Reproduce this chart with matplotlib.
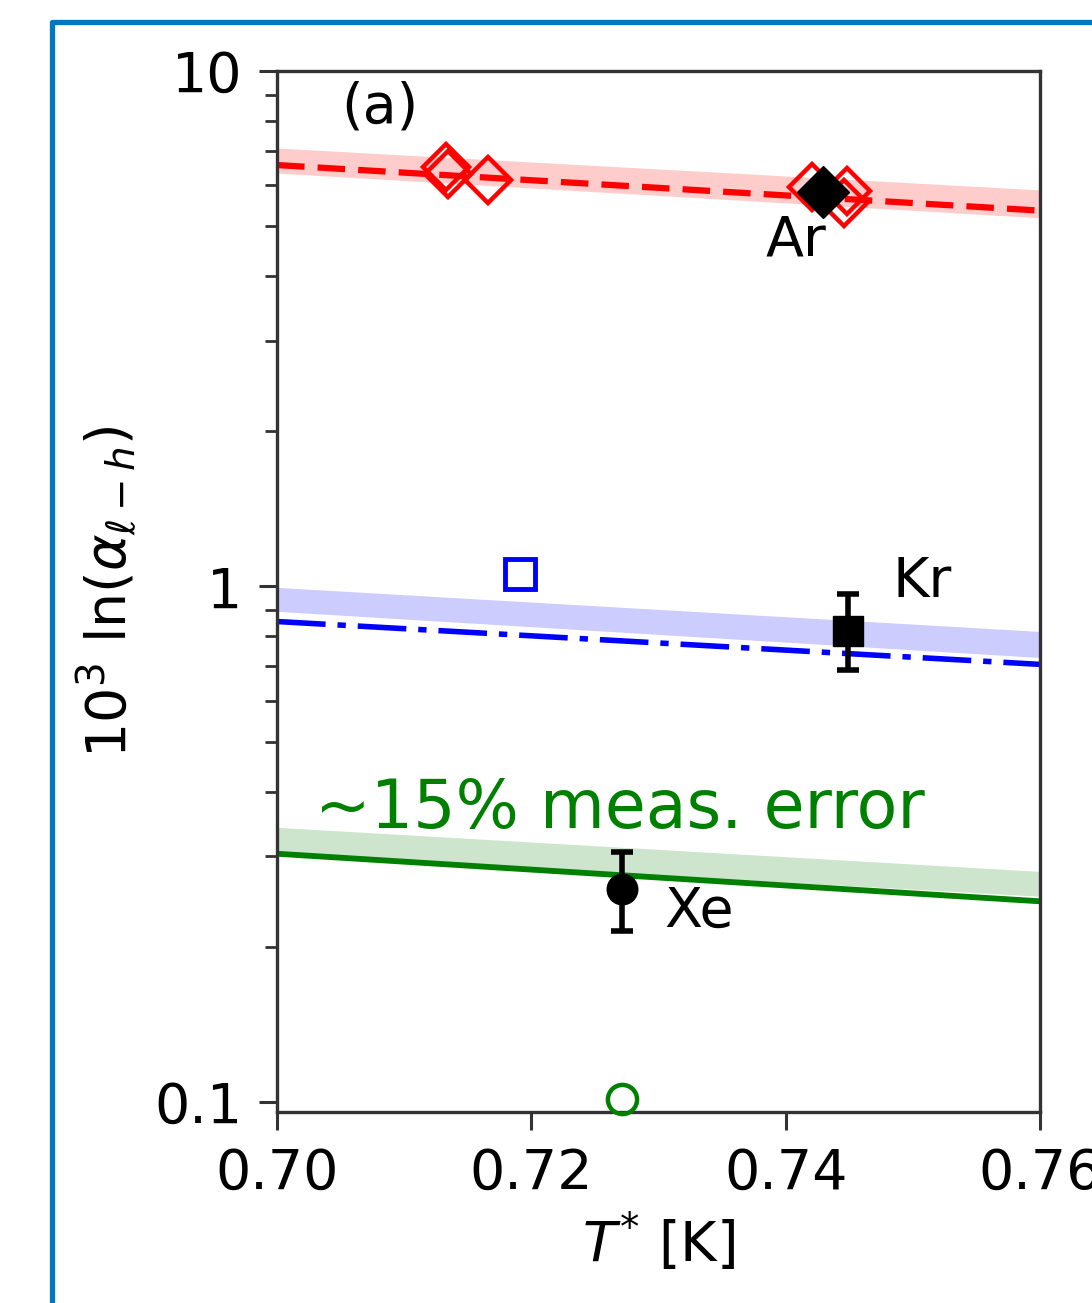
import numpy as np
import matplotlib
matplotlib.use("Agg")
import matplotlib.pyplot as plt
from matplotlib.ticker import FixedLocator, FuncFormatter, LogLocator, NullFormatter
from matplotlib.patches import Rectangle

# end points of the model lines (T*, value)
t_ends = [0.70, 0.76]
ar_line = [6.57, 5.36]
ar_band_lo = [6.34, 5.19]
ar_band_hi = [7.09, 5.88]
kr_line = [0.855, 0.706]
kr_band_lo = [0.895, 0.728]
kr_band_hi = [0.996, 0.818]
xe_line = [0.303, 0.245]
xe_band_lo = [0.303, 0.2506]
xe_band_hi = [0.341, 0.280]

# simulation points
ar_sim_t = [0.71329, 0.71345, 0.71659, 0.74207, 0.74480, 0.74460]
ar_sim_v = [6.516, 6.315, 6.149, 5.959, 5.853, 5.548]
kr_sim_t = [0.71911]
kr_sim_v = [1.055]
xe_sim_t = [0.72713]
xe_sim_v = [0.1013]

# measurements
ar_exp_t = [0.74293]
ar_exp_v = [5.829]
kr_exp_t = [0.74490]
kr_exp_v = [0.818]
kr_exp_lo = [0.690]
kr_exp_hi = [0.965]
xe_exp_t = [0.72713]
xe_exp_v = [0.259]
xe_exp_lo = [0.2145]
xe_exp_hi = [0.305]

fig = plt.figure(figsize=(10.92, 13.03), dpi=100)
ax = fig.add_axes([0.2537, 0.1466, 0.6987, 0.7989])

# blue frame around the panel
fig.patches.append(Rectangle((52 / 1092, -0.1), 1.2, 1 - 22 / 1303 + 0.1,
                             transform=fig.transFigure, fill=False,
                             edgecolor="#0077c0", linewidth=3.8,
                             joinstyle="round", zorder=0))

ax.fill_between(t_ends, ar_band_lo, ar_band_hi, color="red", alpha=0.2, lw=0)
ax.fill_between(t_ends, kr_band_lo, kr_band_hi, color="blue", alpha=0.2, lw=0)
ax.fill_between(t_ends, xe_band_lo, xe_band_hi, color="green", alpha=0.2, lw=0)

ax.plot(t_ends, ar_line, color="red", lw=4.5, dashes=(4.4, 2.1))
ax.plot(t_ends, kr_line, color="blue", lw=4.0, dashes=(8.75, 2.15, 1.5, 2.15))
ax.plot(t_ends, xe_line, color="green", lw=4.2)

ax.plot(ar_sim_t, ar_sim_v, "D", mfc="none", mec="red", ms=23,
        mew=3.2, ls="none", zorder=4)
ax.plot(ar_exp_t, ar_exp_v, "D", color="black", ms=26, zorder=6)
ax.plot(kr_sim_t, kr_sim_v, "s", mfc="none", mec="blue", ms=22, mew=3.5)
ax.plot(xe_sim_t, xe_sim_v, "o", mfc="none", mec="green", ms=21, mew=3.2,
        clip_on=False, zorder=5)

kr_err = [np.array(kr_exp_v) - np.array(kr_exp_lo),
          np.array(kr_exp_hi) - np.array(kr_exp_v)]
xe_err = [np.array(xe_exp_v) - np.array(xe_exp_lo),
          np.array(xe_exp_hi) - np.array(xe_exp_v)]
ax.errorbar(kr_exp_t, kr_exp_v, yerr=kr_err, fmt="s", color="black",
            ms=22, elinewidth=4.0, capsize=8, capthick=4.0, zorder=7)
ax.errorbar(xe_exp_t, xe_exp_v, yerr=xe_err, fmt="o", color="black",
            ms=22, elinewidth=4.0, capsize=8, capthick=4.0, zorder=7)

ax.set_yscale("log")
ax.set_xlim(0.70, 0.76)
ax.set_ylim(0.0956, 10)

ax.xaxis.set_major_locator(FixedLocator([0.70, 0.72, 0.74, 0.76]))
ax.xaxis.set_major_formatter(FuncFormatter(lambda v, p: "%.2f" % v))
ax.yaxis.set_major_locator(FixedLocator([0.1, 1, 10]))
ax.yaxis.set_major_formatter(FuncFormatter(lambda v, p: "%g" % v))
ax.yaxis.set_minor_locator(LogLocator(base=10, subs=np.arange(2, 10)))
ax.yaxis.set_minor_formatter(NullFormatter())

ax.tick_params(which="major", labelsize=40, length=13, width=2.2,
               pad=12, color="#333333")
ax.tick_params(which="minor", length=8.5, width=2.0, color="#333333")
for s in ax.spines.values():
    s.set_linewidth(2.4)
    s.set_color("#333333")

ax.set_xlabel(r"$T^{*}$ [K]", fontsize=40, labelpad=8)
ax.set_ylabel(r"$10^3$ ln($\alpha_{\ell-h}$)", fontsize=40, labelpad=10)

ax.text(0.7081, 8.5, "(a)", fontsize=40, ha="center", va="center")
ax.text(0.7408, 4.70, "Ar", fontsize=40, ha="center", va="center")
ax.text(0.7507, 1.018, "Kr", fontsize=40, ha="center", va="center")
ax.text(0.7332, 0.2335, "Xe", fontsize=40, ha="center", va="center")
ax.text(0.7030, 0.370, "~15% meas. error", fontsize=48, color="green",
        ha="left", va="center")

fig.savefig("out.png", dpi=100)
